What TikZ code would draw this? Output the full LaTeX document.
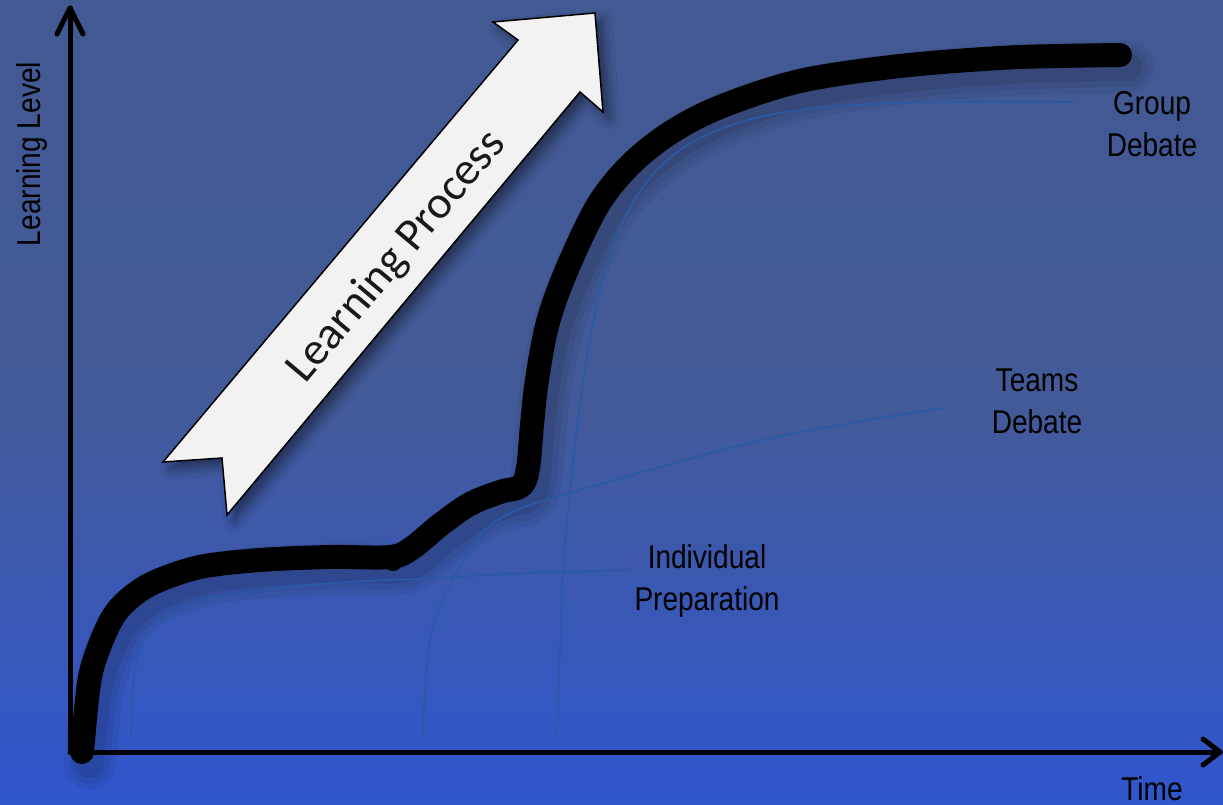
\documentclass[tikz,border=0pt]{standalone}
\usepackage{fontspec}
\setmainfont{Liberation Sans}
\newfontfamily\labfont[FakeStretch=0.85]{Liberation Sans}
\newfontfamily\arrfont{Carlito}
\usetikzlibrary{shadows.blur}
\definecolor{bgtop}{RGB}{64,88,142}
\definecolor{bgmid}{RGB}{67,90,152}
\definecolor{bglow}{RGB}{50,86,200}
\definecolor{bglow2}{RGB}{38,83,228}
\definecolor{bgbot}{RGB}{32,80,240}
\definecolor{thincol}{RGB}{42,90,165}
\definecolor{arrfill}{RGB}{242,242,242}
\pgfdeclareverticalshading{bgshade}{100bp}{color(0bp)=(bgbot); color(10bp)=(bglow2); color(28bp)=(bglow); color(50bp)=(bgmid); color(100bp)=(bgtop)}
\newcommand\mycurve[1]{\draw[#1] plot[smooth,tension=0.55] coordinates {(82,752) (89,683) (98,650) (113,617) (130,598) (155,582) (200,567) (260,560) (330,557) (390,557) (412,548) (440,525) (470,504) (500,492) (521,486) (528,468) (532,425) (537,380) (548,322) (568,267) (598,205) (630,165) (670,133) (720,107) (800,81) (900,66) (1000,58) (1060,56) (1120,55)};}
\begin{document}
\begin{tikzpicture}[x=1pt,y=-1pt,
  lab/.style={font=\labfont\fontsize{33}{42}\selectfont, align=center, inner sep=0pt, text=black},
  thinline/.style={draw=thincol, line width=1.7pt, line cap=round},
  axisline/.style={draw=black, line width=5pt, line cap=round, line join=round},
  bigcurve/.style={draw=black, line width=24pt, line cap=round, line join=round}]
\shade[shading=bgshade] (0,0) rectangle (1223,805);
\useasboundingbox (0,0) rectangle (1223,805);

% soft shadow of the main curve
\begin{scope}[shift={(8,12)}]
  \mycurve{draw=black, opacity=0.05, line width=52pt, line cap=round, line join=round}
  \mycurve{draw=black, opacity=0.06, line width=40pt, line cap=round, line join=round}
  \mycurve{draw=black, opacity=0.08, line width=28pt, line cap=round, line join=round}
\end{scope}

% thin curves
\draw[thinline] plot[smooth,tension=0.6] coordinates {(131,737) (132,700) (136,665) (146,637) (167,617) (200,600) (267,590) (333,583) (433,578) (530,573) (630,570)};
\draw[thinline] plot[smooth,tension=0.6] coordinates {(423,737) (425,690) (430,640) (440,605) (457,573) (483,532) (517,510) (570,493) (650,470) (750,443) (850,423) (943,408)};
\draw[thinline] plot[smooth,tension=0.6] coordinates {(557,737) (560,650) (563,570) (570,493) (578,420) (590,340) (605,272) (626,215) (657,170) (700,138) (760,117) (840,106) (950,102) (1075,102)};

% main thick curve
\mycurve{bigcurve}
\fill[black] (393,561) circle (10pt);

% big white arrow
\filldraw[fill=arrfill, draw=black, line width=1.5pt, line join=miter,
  blur shadow={shadow xshift=7pt, shadow yshift=-7pt, shadow blur radius=10pt, shadow opacity=45}]
  (163,462) -- (518,40) -- (493,22) -- (595,13) -- (603,112) -- (580,92) -- (227,515) -- (222,458) -- cycle;
\node[font=\arrfont\fontsize{46}{46}\selectfont, rotate=50, text=black!90, inner sep=0pt] (lp) at (397,257) {Learning Process};

% axes
\coordinate (O) at (70,752);
\coordinate (ytip) at (70,8);
\coordinate (xtip) at (1220,752);
\draw[axisline] (O) -- (ytip);
\draw[axisline] (57,34) -- (ytip) -- (83,34);
\draw[axisline] (O) -- (xtip);
\draw[axisline] (1203,739) -- (xtip) -- (1203,765);

% labels
\node[lab, rotate=90, anchor=base] (ll) at (40,154) {Learning Level};
\node[lab, anchor=base] (time) at (1152,800) {Time};
\node[lab] (ip) at (707,581) {Individual\\Preparation};
\node[lab] (td) at (1037,401) {Teams\\Debate};
\node[lab] (gd) at (1152,124) {Group\\Debate};
\end{tikzpicture}
\end{document}
